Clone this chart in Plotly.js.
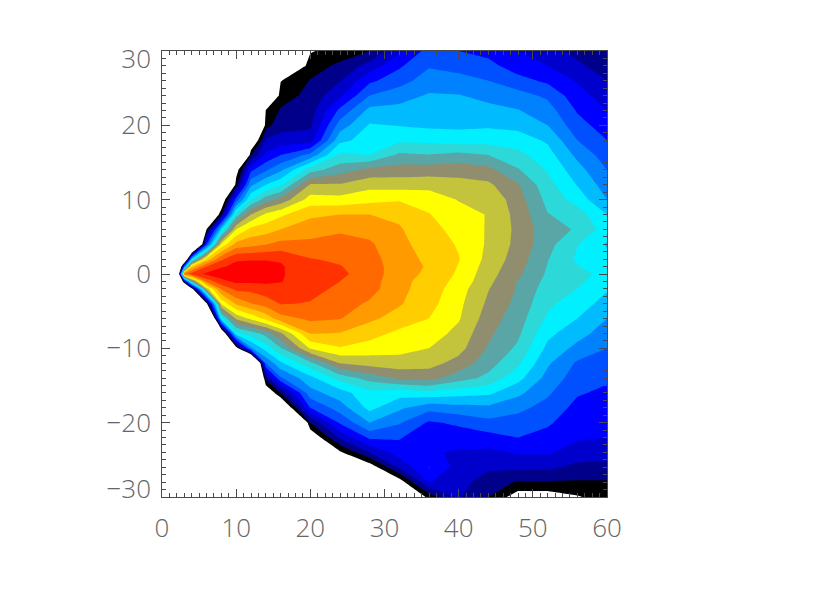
<!DOCTYPE html>
<html>
<head>
<meta charset="utf-8">
<script src="https://cdn.plot.ly/plotly-3.0.1.min.js"></script>
<style>body { margin: 0; background: #fff; }</style>
</head>
<body>
<div id="grafico" style="width:830px;height:600px"></div>
<script>
// band colours, low to high, white below the first level
const bandColors = ['#000000', '#00008b', '#0000cd', '#0000ff', '#0050ff', '#0082ff', '#00bcff', '#00f0ff',
    '#2cd8d8', '#5aa5a5', '#918e70', '#c3c33c', '#ffff00', '#ffcd00', '#ff9b00', '#ff6900', '#ff3200', '#ff0000'];

const xVals = [0, 2, 3, 4, 6, 8, 10, 12, 14, 16, 20, 24, 28, 32, 36, 40, 44, 48, 52, 56, 60];
const yVals = [30, 28, 26, 24, 22, 20, 18, 16, 14, 12, 10, 8, 6, 4, 2, 1, 0, -1, -2, -4, -6, -8, -10, -12, -14, -16, -18, -20, -22, -24, -26, -28, -30];

const xTicks = [0, 10, 20, 30, 40, 50, 60];
const yLabelPos = [28.9, 20, 10, 0, -10, -20, -28.9];
const yLabels = ['30', '20', '10', '0', '\u221210', '\u221220', '\u221230'];

// z, one line per x column, y from +30 down to -30
const zCols = [
    [-10,-10,-10,-10,-10,-10,-10,-10,-10,-10,-10,-10,-10,-10,-10,-10,-10,-10,-10,-10,-10,-10,-10,-10,-10,-10,-10,-10,-10,-10,-10,-10,-10],
    [-10,-10,-10,-10,-10,-10,-10,-10,-10,-10,-10,-10,-10,-10,-9,-8,-7,-8,-9,-10,-10,-10,-10,-10,-10,-10,-10,-10,-10,-10,-10,-10,-10],
    [-10,-10,-10,-10,-10,-10,-10,-10,-10,-10,-10,-10,-10,-10,-5,5,15.5,2,-8,-10,-10,-10,-10,-10,-10,-10,-10,-10,-10,-10,-10,-10,-10],
    [-10,-10,-10,-10,-10,-10,-10,-10,-10,-10,-10,-10,-10,-10,7,13.5,16.4,9.5,-0.8,-10,-10,-10,-10,-10,-10,-10,-10,-10,-10,-10,-10,-10,-10],
    [-10,-10,-10,-10,-10,-10,-10,-10,-10,-10,-10,-4,0,4,13.3,16,17.2,15.3,11.5,-0.5,-10,-10,-10,-10,-10,-10,-10,-10,-10,-10,-10,-10,-10],
    [-10,-10,-10,-10,-10,-10,-10,-10,-10,-10,-1.5,0.8,7,12.2,15.8,16.9,17.5,16.7,15.15,12.15,7.6,-3,-10,-10,-10,-10,-10,-10,-10,-10,-10,-10,-10],
    [-10,-10,-10,-10,-10,-10,-10,-10,-0.7,0.65,4.4,8.4,12,14.35,16.9,17.2,17.4,17.2,16.3,14.15,11.15,7.75,-0.9,-10,-10,-10,-10,-10,-10,-10,-10,-10,-10],
    [-10,-10,-10,-10,-10,-10,-2,1,3.8,5.8,8,11,13.3,14.65,16.95,17.2,17.3,17.2,16.3,14.95,12.2,8.5,5.8,-8.7,-10,-10,-10,-10,-10,-10,-10,-10,-10],
    [-10,-10,-10,-4,0.05,0.6,2.15,3.2,4.85,7,9.55,12.2,13.55,14.95,16.95,17.2,17.3,17.2,16.6,15.45,13.3,9.35,7.45,5,1.4,-1.5,-10,-10,-10,-10,-10,-10,-10],
    [-10,-3,-0.05,0.55,1.1,1.6,2.4,4,5.8,7.8,10.3,12.8,14,15.3,16.9,17.1,17.1,17.05,16.6,16.05,14.6,10.8,8.9,6.8,4.85,1,-2.3,-10,-10,-10,-10,-10,-10],
    [-0.1,0.55,1.05,1.3,1.55,1.8,2.5,5.3,8.6,11.1,12.45,13.8,14.55,15.25,16.05,16.35,16.45,16.35,16.25,15.95,15.2,14.05,12.1,8.7,6.7,5.6,4,1,-1.2,-10,-10,-10,-10],
    [0.5,1.2,1.95,2.8,4.25,5.45,6.7,8.25,9.55,11.1,12.35,14,14.85,15.4,15.85,16.05,16.2,16,15.85,15.45,15.05,13.95,12.9,11,8.4,6.55,5.5,4.15,2.2,-0.2,-3,-10,-10],
    [1,2.4,3.8,5,6.3,7.1,7.45,8,10.3,11.65,12.7,14,14.65,15.15,15.4,15.5,15.55,15.45,15.4,14.85,14.2,13.4,12.55,11.4,9.4,7.7,7.3,6,4.2,2,-0.8,-4,-10],
    [2.8,3.85,4.55,5.6,6.3,6.95,7.8,9.2,10.45,11.55,12.9,13.8,14.1,14.25,14.4,14.45,14.4,14.3,14.25,14.1,13.6,12.75,12.35,11.55,10.2,7.4,6.2,5.1,4.1,3.5,2.2,-0.7,-3],
    [4.4,4.9,5.55,6.1,6.45,6.8,7.75,9.05,10.5,11.65,12.6,13.05,13.35,13.6,13.8,13.9,13.8,13.6,13.55,13.35,13,12.5,12,11.35,10.4,7.7,5.35,3.85,3.2,3.1,4.05,3.05,0.4],
    [4,4.6,5.4,6.05,6.45,6.8,7.5,9.3,10.6,11.35,11.95,12.35,12.65,12.9,13.05,12.95,12.85,12.7,12.45,12.25,12.1,11.7,11.35,10.65,9.45,7.4,5.65,4.2,3.4,2.9,2.6,2.35,2.1],
    [3.7,4.3,5,5.7,6.3,6.85,7.6,9,10.3,11.2,11.8,11.95,11.9,11.85,11.7,11.55,11.4,11.25,11.05,10.8,10.5,10.2,9.9,9.4,8.75,7.2,5.8,4.7,3.6,2.8,2.15,1.55,1],
    [3,3.5,4.35,5.4,6.05,6.7,7.5,8.3,9.1,10.1,10.45,10.65,10.75,10.7,10.5,10.35,10.2,9.95,9.9,9.7,9.45,9.2,8.8,8.2,7.35,6.25,5.25,4.6,4,3.1,2.25,0.9,-0.6],
    [2.4,3,3.8,4.8,5.45,6,6.85,7.4,7.9,8.35,8.7,9.05,9.4,9.35,9.05,8.95,8.85,8.7,8.5,8.2,7.85,7.25,6.75,6.15,5.65,5.15,4.65,4.15,3.65,3.1,2.25,0.9,-0.6],
    [1.7,2.2,2.9,3.4,3.9,4.4,5,5.75,6.4,6.95,7.6,8.5,8.9,8.05,7.85,8.05,8.4,8.2,8,7.5,7,6.4,5.7,4.85,4.5,4.1,3.7,3.4,3.1,2.65,1.7,0.9,-0.1],
    [1.2,1.5,2,2.5,3,3.5,4,4.5,5,5.5,6,7,7.5,6.9,7.2,7.4,7.6,7.45,7.1,6.6,6,5.5,5,4.5,4.15,3.8,3.55,3.3,3,2.35,1.7,0.9,0.5]
];

// escala por bandas: plotly samples band L at (L + 1) / n, so each colour is centred there
const n = bandColors.length;
const escala = [[0, '#ffffff'], [0.5 / n, '#ffffff']];
bandColors.forEach((c, i) => {
    escala.push([(i + 0.5) / n, c]);
    escala.push([Math.min((i + 1.5) / n, 1), c]);
});

const trace = {
    type: 'contour',
    x: xVals,
    y: yVals,
    z: zCols,
    transpose: true,
    autocontour: false,
    contours: { start: 0, end: n - 1, size: 1, coloring: 'fill', showlines: false },
    line: { width: 0, smoothing: 0 },
    colorscale: escala,
    showscale: false,
    hoverinfo: 'skip'
};
const labelTrace = { type: 'scatter', x: [], y: [], yaxis: 'y2', showlegend: false };

const tickFont = { family: '"Open Sans", sans-serif', size: 26, color: '#666666', weight: 300 };
const ejeColor = '#4a4a4a';

const layout = {
    width: 830,
    height: 600,
    showlegend: false,
    paper_bgcolor: '#fff',
    plot_bgcolor: '#fff',
    margin: { l: 161.5, r: 223, t: 51, b: 102.5 },
    xaxis: {
        range: [0, 60], tickmode: 'array', tickvals: xTicks, ticks: 'inside', ticklen: 8, tickwidth: 1, tickcolor: ejeColor,
        showgrid: false, zeroline: false, showline: true, linecolor: ejeColor, linewidth: 1, mirror: 'ticks',
        minor: { dtick: 1, ticks: 'inside', ticklen: 4, tickwidth: 1, tickcolor: ejeColor, showgrid: false },
        tickfont: tickFont, ticklabelstandoff: 8
    },
    yaxis: {
        range: [-30, 30], tickmode: 'array', tickvals: [-30, -20, -10, 0, 10, 20, 30], showticklabels: false,
        ticks: 'inside', ticklen: 8, tickwidth: 1, tickcolor: ejeColor,
        showgrid: false, zeroline: false, showline: true, linecolor: ejeColor, linewidth: 1, mirror: 'ticks',
        minor: { dtick: 1, ticks: 'inside', ticklen: 4, tickwidth: 1, tickcolor: ejeColor, showgrid: false }
    },
    yaxis2: {
        overlaying: 'y', side: 'left', range: [-30, 30], tickmode: 'array', tickvals: yLabelPos, ticktext: yLabels,
        ticks: '', showgrid: false, zeroline: false, showline: false, tickfont: tickFont, ticklabelstandoff: 10
    }
};

Plotly.newPlot('grafico', [trace, labelTrace], layout, { displayModeBar: false, staticPlot: true });
</script>
</body>
</html>
